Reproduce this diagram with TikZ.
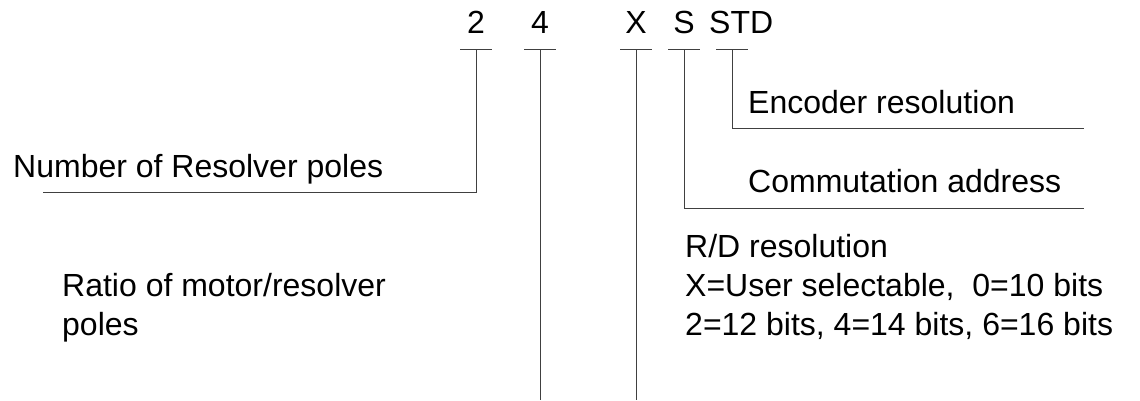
\documentclass[tikz,border=0pt]{standalone}
\usepackage{fontspec}
\setmainfont{Liberation Sans}
\begin{document}
\begin{tikzpicture}[x=1pt,y=-1pt,
  lbl/.style={inner sep=0pt,font=\fontsize{32}{40}\selectfont},
  lft/.style={lbl,anchor=base west},
  ctr/.style={lbl,anchor=base},
  wire/.style={draw=black!75,line width=1pt},
  bar/.style={draw=black!75,line width=1pt}]
\useasboundingbox (0,0) rectangle (1140,400);
% top code characters
\node[ctr] (c2) at (476,33) {2};
\node[ctr] (c4) at (540,33) {4};
\node[ctr] (cX) at (636,33) {X};
\node[ctr] (cS) at (684,33) {S};
\node[lft] (cSTD) at (709,33) {STD};
% tick bars
\coordinate (t2) at (476,49);
\coordinate (t4) at (540,49);
\coordinate (tX) at (636,49);
\coordinate (tS) at (684,49);
\coordinate (tSTD) at (732,49);
\foreach \t in {t2,t4,tX,tS,tSTD}{
  \draw[bar] ([xshift=-16pt]\t) -- ([xshift=16pt]\t);
}
% descriptions
\node[lft] (enc) at (748,113) {Encoder resolution};
\node[lft] (com) at (748,192) {Commutation address};
\node[lft] (num) at (13,177) {Number of Resolver poles};
\node[lft] (rd1) at (685,257) {R/D resolution};
\node[lft] (rd2) at (685,296) {X=User selectable,\ \ 0=10 bits};
\node[lft] (rd3) at (685,335) {2=12 bits, 4=14 bits, 6=16 bits};
\node[lft] (ratio1) at (62,296) {Ratio of motor/resolver};
\node[lft] (ratio2) at (62,335) {poles};
% end points
\coordinate (eEnc) at (1084,128);
\coordinate (eCom) at (1084,208);
\coordinate (eNum) at (43,192);
\coordinate (e4) at (540,400);
\coordinate (eX) at (636,400);
% connectors
\draw[wire] (tSTD) |- (eEnc);
\draw[wire] (tS) |- (eCom);
\draw[wire] (t2) |- (eNum);
\draw[wire] (t4) -- (e4);
\draw[wire] (tX) -- (eX);
\end{tikzpicture}
\end{document}
